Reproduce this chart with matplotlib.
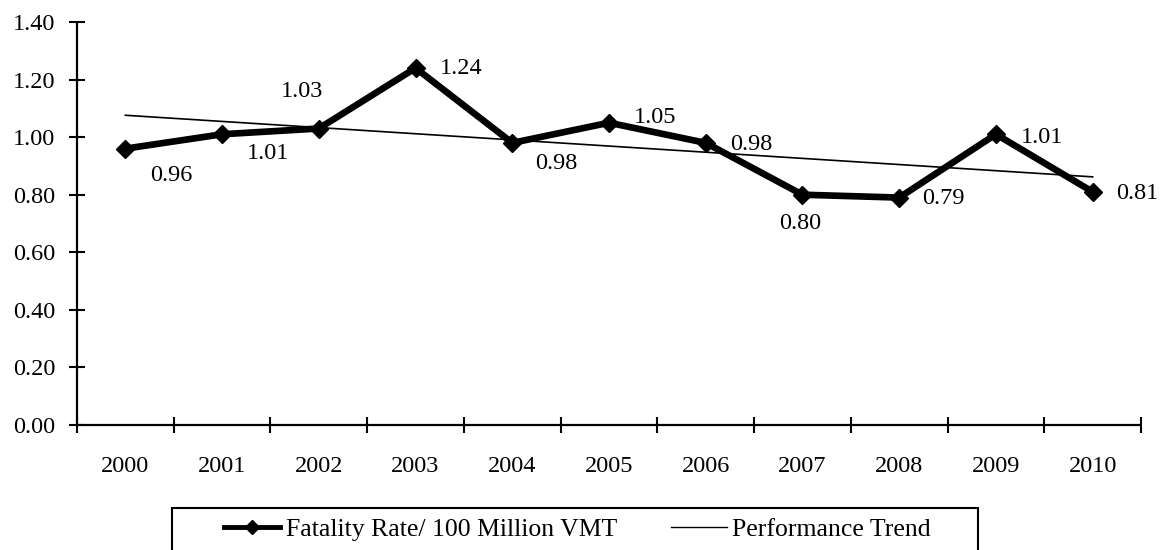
import matplotlib.pyplot as plt
from matplotlib.lines import Line2D
from matplotlib.patches import Rectangle

# data
years = ['2000', '2001', '2002', '2003', '2004', '2005', '2006', '2007', '2008', '2009', '2010']
rate = [0.96, 1.01, 1.03, 1.24, 0.98, 1.05, 0.98, 0.80, 0.79, 1.01, 0.81]
trend_ends = [1.076, 0.862]
y_ticks = [0.0, 0.2, 0.4, 0.6, 0.8, 1.0, 1.2, 1.4]

# label offsets (points) for the value labels
offsets = [(33, -19), (33, -14), (-12, 27), (33, 0), (32, -15), (33, 4),
           (33, -1), (-2, -21), (32, -1), (33, -2), (32, -1)]

plt.rcParams['font.family'] = ['Liberation Serif', 'DejaVu Serif']
plt.rcParams['font.size'] = 17

fig = plt.figure(figsize=(11.66, 5.5), dpi=100)
ax = fig.add_axes([0.0660, 0.2273, 0.9126, 0.7327])

x = [i + 0.5 for i in range(len(years))]
ax.plot(x, rate, color='black', lw=4.8, marker='D', markersize=9,
        markeredgewidth=1, solid_joinstyle='miter', zorder=3)
ax.plot([x[0], x[-1]], trend_ends, color='black', lw=1.2, zorder=2)

for xi, v, (dx, dy) in zip(x, rate, offsets):
    ax.annotate('%.2f' % v, (xi, v), xytext=(dx, dy), textcoords='offset points',
                ha='center', va='center', fontsize=17.5)

ax.set_xlim(0, len(years))
ax.set_ylim(0, 1.4)
ax.set_yticks(y_ticks)
ax.set_yticklabels(['%.2f' % t for t in y_ticks], fontsize=17.5)

ax.set_xticks(range(len(years) + 1))
ax.set_xticklabels([])
ax.set_xticks(x, minor=True)
ax.set_xticklabels(years, minor=True, fontsize=17.5)
ax.tick_params(axis='x', which='minor', length=0, pad=22)
ax.tick_params(axis='x', which='major', direction='inout', length=11.5, width=1.5)
ax.tick_params(axis='y', direction='inout', length=11.5, width=1.5, pad=10)

for s in ['top', 'right']:
    ax.spines[s].set_visible(False)
for s in ['left', 'bottom']:
    ax.spines[s].set_linewidth(1.6)
    ax.spines[s].set_capstyle('butt')

handles = [Line2D([], [], color='black', lw=3.5, marker='D', markersize=7),
           Line2D([], [], color='black', lw=1.0)]
fig.legend(handles, ['Fatality Rate/ 100 Million VMT', 'Performance Trend'],
           loc='center', bbox_to_anchor=(0.4953, 0.0364), bbox_transform=fig.transFigure,
           ncol=2, frameon=False, handlelength=2.18, handletextpad=0.2,
           columnspacing=2.1, borderpad=0, fontsize=18.5)

fig.patches.append(Rectangle((172 / 1166, -0.1), 806 / 1166, 0.1764,
                             transform=fig.transFigure, fill=False,
                             edgecolor='black', lw=1.5))

fig.savefig('out.png', dpi=100)
